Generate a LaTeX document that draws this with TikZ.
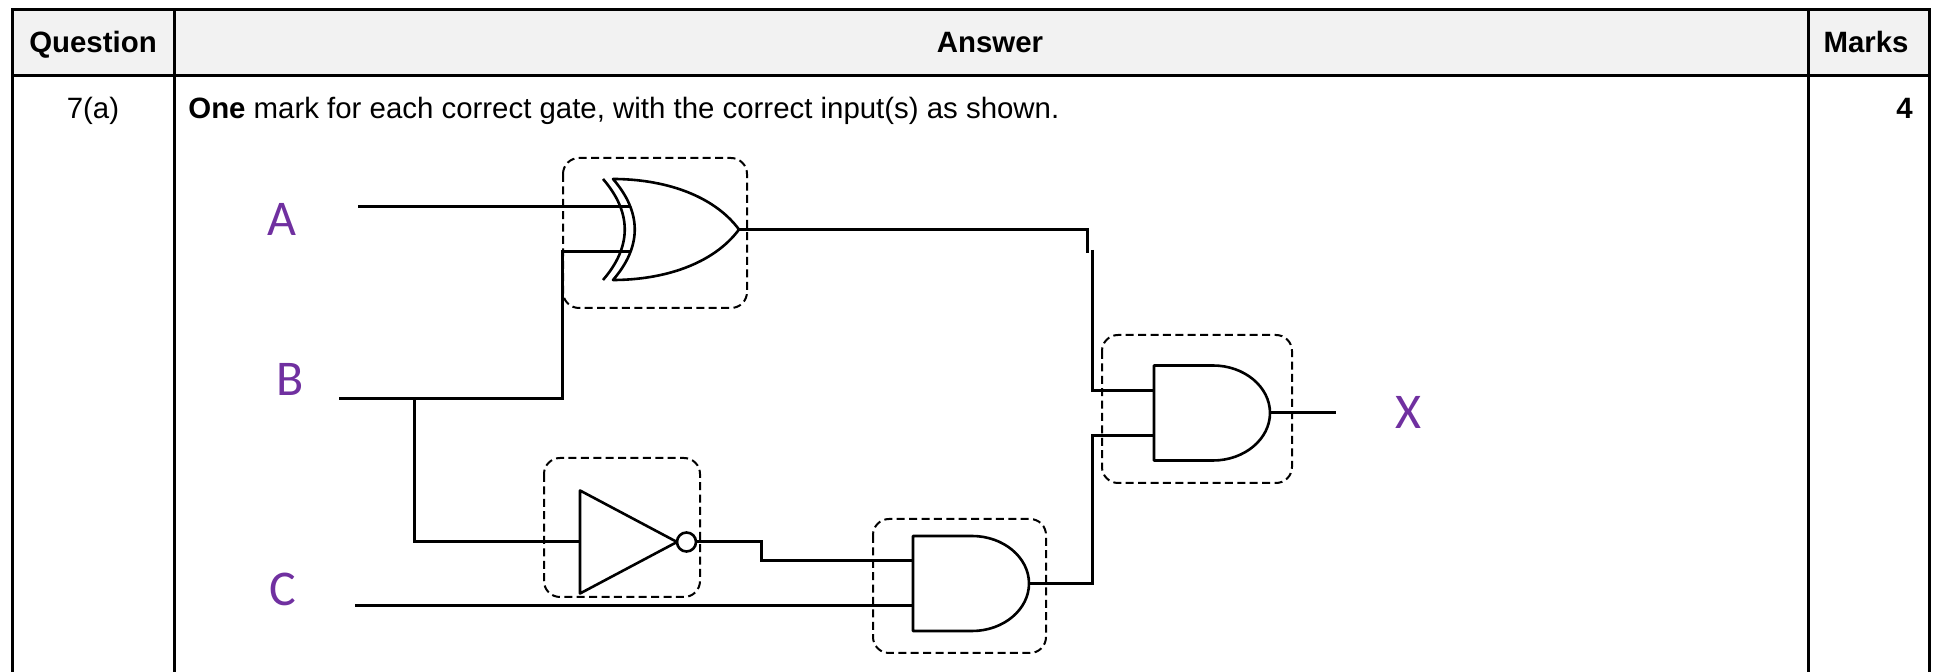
\documentclass[tikz,border=0pt]{standalone}
\usepackage{fontspec}
\usepackage{tikz}
\usepackage{xcolor}
\usetikzlibrary{positioning,calc}
\setmainfont{Liberation Sans}
\newfontfamily\pinfont{Carlito}
\definecolor{pinpurple}{HTML}{7030A0}
\definecolor{headgray}{HTML}{F2F2F2}
\newcommand{\pnode}[3]{\node [pinlabel] (#1) at (#2) {#3}}
\tikzset{
  rule/.style={line width=1.5pt},
  wire/.style={line width=1.5pt},
  gateline/.style={line width=1.3pt, line join=round},
  gatebox/.style={line width=1pt, dash pattern=on 4pt off 2.2pt, rounded corners=8pt},
  headtext/.style={font=\fontsize{14.7pt}{18pt}\selectfont\bfseries, anchor=base, inner sep=0pt},
  celltext/.style={font=\fontsize{14.7pt}{18pt}\selectfont, anchor=base, inner sep=0pt},
  pinlabel/.style={font=\pinfont\fontsize{25pt}{30pt}\selectfont, text=pinpurple, inner sep=0pt},
  xorgate/.pic={
    \draw[gateline] (0,-50.5) .. controls (29,-17) and (29,17) .. (0,50.5)
      .. controls (50,50.5) and (100,35) .. (126,0)
      .. controls (100,-35) and (50,-50.5) .. (0,-50.5) -- cycle;
    \draw[gateline] (-10,-50.5) .. controls (19,-17) and (19,17) .. (-10,50.5);
    \coordinate (-in1) at (17,-22.5);
    \coordinate (-in2) at (17,22.5);
    \coordinate (-out) at (126,0);
  },
  andgate/.pic={
    \draw[gateline] (0,-47.5) -- (59,-47.5) .. controls (90.5,-47.5) and (116,-26) .. (116,0)
      .. controls (116,26) and (90.5,47.5) .. (59,47.5) -- (0,47.5) -- cycle;
    \coordinate (-in1) at (0,-22.5);
    \coordinate (-in2) at (0,22.5);
    \coordinate (-out) at (116,0);
  },
  notgate/.pic={
    \draw[gateline] (0,-51.5) -- (97,0) -- (0,51.5) -- cycle;
    \draw[gateline] (106.5,0) circle[radius=9.5];
    \coordinate (-in) at (0,0);
    \coordinate (-out) at (116,0);
  }
}

\begin{document}
\begin{tikzpicture}[x=0.5pt, y=-0.5pt]

\useasboundingbox (0,0) rectangle (1933,672);

\fill[headgray] (12,10) rectangle (1929,76);
\draw[rule] (12,672) -- (12,10) -- (1929,10) -- (1929,672);
\draw[rule] (12,76) -- (1929,76);
\draw[rule] (174,10) -- (174,672);
\draw[rule] (1808,10) -- (1808,672);

\node[headtext] (QHEAD) at (93,53) {Question};
\node[headtext] (AHEAD) at (990,53) {Answer};
\node[headtext] (MHEAD) at (1866,53) {Marks};
\node[celltext] (QNUM) at (93,119) {7(a)};
\node[celltext, anchor=base west] (ANS) at (188,119) {\textbf{One} mark for each correct gate, with the correct input(s) as shown.};
\node[headtext, anchor=base east] (MARK) at (1913,119) {4};

\draw[gatebox] (563,158) rectangle (747,308);
\draw[gatebox] (544,458) rectangle (700,597);
\draw[gatebox] (873,519) rectangle (1046,653);
\draw[gatebox] (1102,335) rectangle (1292,483);

\pic (XOR) at (613,229.5) {xorgate};
\pic (NOT) at (580,542) {notgate};
\pic (AND1) at (913,583.5) {andgate};
\pic (AND2) at (1154,413) {andgate};

\pnode{LA}{282,219}{A};
\pnode{LB}{290,379}{B};
\pnode{LC}{283,589}{C};
\pnode{LX}{1408,412}{X};

\coordinate (AIN) at (358,207);
\coordinate (BIN) at (339,399);
\coordinate (BSPLIT) at (414,399);
\coordinate (CIN) at (355,606);
\coordinate (JOG) at (1092,250);
\coordinate (XOUT) at (1336,413);

\draw[wire] (AIN) -- (XOR-in1);
\draw[wire] (BIN) -- ++(223,0) |- (XOR-in2);
\draw[wire] (BSPLIT) |- (NOT-in);
\draw[wire] (NOT-out) -- ++(65,0) |- (AND1-in1);
\draw[wire] (CIN) -- (AND1-in2);
\draw[wire] (XOR-out) -| ($(JOG)+(-5,3)$);
\draw[wire] (JOG) |- (AND2-in1);
\draw[wire] (AND1-out) -| ($(AND2-in2)+(-62,0)$) -- (AND2-in2);
\draw[wire] (AND2-out) -- (XOUT);

\end{tikzpicture}
\end{document}
